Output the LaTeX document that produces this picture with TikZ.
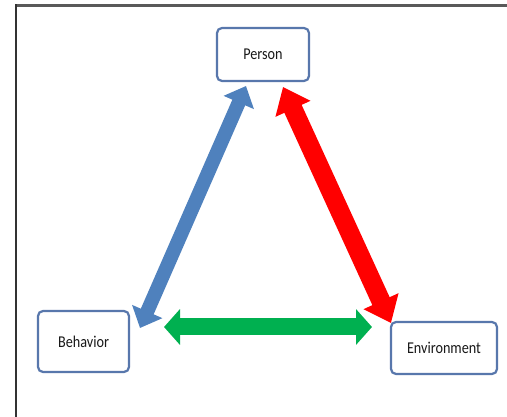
\documentclass[tikz,border=0pt]{standalone}
\usepackage{fontspec}
\newfontfamily\boxfont[FakeStretch=0.86]{Carlito}
\usetikzlibrary{arrows.meta}
\definecolor{boxblue}{HTML}{5877AC}
\definecolor{arrblue}{HTML}{4F81BD}
\definecolor{arrred}{HTML}{FF0000}
\definecolor{arrgreen}{HTML}{00B050}
\tikzset{
  concept/.style={draw=boxblue, line width=2.2pt, rounded corners=5pt, fill=white,
    font=\boxfont\fontsize{16.5}{18}\selectfont, text=black!90, inner sep=0pt},
  framestyle/.style={line width=2.2pt},
}
\begin{document}
\begin{tikzpicture}[x=1pt,y=-1pt]
\fill[white] (0,0) rectangle (507,417);
\useasboundingbox (0,0) rectangle (507,417);
% frame
\draw[framestyle, draw=black!65] (16,5.6) -- (507,5.6);
\draw[framestyle, draw=black!80] (16,4.5) -- (16,417);
% boxes
\node[concept, minimum width=92pt, minimum height=53pt] (person) at (263,54.5) {Person};
\node[concept, minimum width=91pt, minimum height=61pt] (behavior) at (83.5,341.5) {Behavior};
\node[concept, minimum width=106pt, minimum height=52pt] (env) at (444,348) {Environment};
% arrow end points
\coordinate (bB) at (140,328);
\coordinate (bP) at (246,86);
\coordinate (rP) at (283,87);
\coordinate (rE) at (391,323);
\coordinate (gB) at (164,327);
\coordinate (gE) at (372,327);
% arrows
\draw[arrblue, line width=14pt, {Triangle[length=18pt,width=32pt]}-{Triangle[length=18pt,width=32pt]}] (bB) -- (bP);
\draw[arrred, line width=19pt, {Triangle[length=24pt,width=37pt]}-{Triangle[length=24pt,width=37pt]}] (rP) -- (rE);
\draw[arrgreen, line width=17pt, {Triangle[length=16pt,width=35pt]}-{Triangle[length=16pt,width=35pt]}] (gB) -- (gE);
\end{tikzpicture}
\end{document}
